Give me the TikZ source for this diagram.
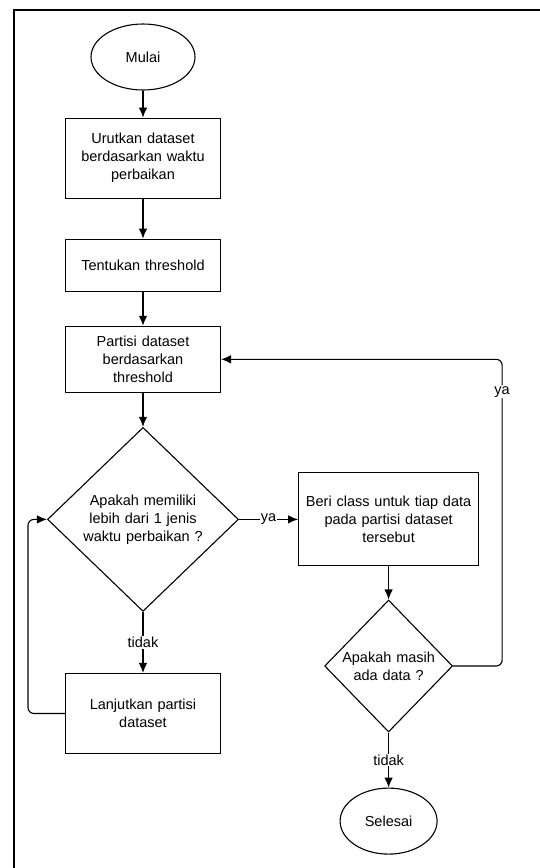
\documentclass[tikz,border=0pt]{standalone}
\usepackage{fontspec}
\setmainfont{Liberation Sans}
\usetikzlibrary{arrows.meta,positioning,shapes.geometric}
\tikzstyle{proses}=[
	rectangle,
	draw=black,
	inner xsep=0pt,
	minimum width=155pt,
	text width=155pt,
	align=center]
\tikzstyle{terminal}=[
	ellipse,
	draw=black,
	inner sep=0pt,
	minimum height=66pt]
\tikzstyle{keputusan}=[
	diamond,
	draw=black,
	inner sep=0pt,
	align=center]
\tikzstyle{label}=[
	fill=white,
	inner sep=1pt]

\begin{document}
\begin{tikzpicture}[>={Latex[length=10pt,width=8.5pt]},line width=1.1pt,font=\fontsize{14.5}{18}\selectfont]
	\useasboundingbox (0,0) rectangle (540pt,-868pt);
	\draw[line width=1.3pt] (14pt,-868pt) -- (14pt,-10pt) -- (540pt,-10pt);
	\begin{scope}[align=center]
		\node[terminal,minimum width=104pt] (mulai) at (143pt,-57pt) {Mulai};
		\node[proses,minimum height=80pt] (urut) [below=27pt of mulai] {Urutkan dataset\\berdasarkan waktu\\perbaikan};
		\node[proses,minimum height=52pt] (tentukan) [below=40pt of urut] {Tentukan threshold};
		\node[proses,minimum height=66pt] (partisi) [below=34pt of tentukan] {Partisi dataset\\berdasarkan\\threshold};
		\node[keputusan,text width=132pt,minimum width=191pt,minimum height=184pt] (cek) [below=34pt of partisi] {Apakah memiliki\\lebih dari 1 jenis\\waktu perbaikan ?};
		\node[proses,minimum height=80pt] (lanjut) [below=61pt of cek] {Lanjutkan partisi\\dataset};
		\node[proses,minimum width=180pt,text width=180pt,minimum height=93pt] (beri) [right=59pt of cek] {Beri class untuk tiap data\\pada partisi dataset\\tersebut};
		\node[keputusan,text width=98pt,minimum width=128pt,minimum height=132pt] (masih) [below=33pt of beri] {Apakah masih\\ada data ?};
		\node[terminal,minimum width=97pt] (selesai) [below=55pt of masih] {Selesai};
		\draw[->] (mulai) -- (urut);
		\draw[->] (urut) -- (tentukan);
		\draw[->] (tentukan) -- (partisi);
		\draw[->] (partisi) -- (cek);
		\draw[->] (cek) -- node[label] {tidak} (lanjut);
		\draw[->] (cek) -- node[label] {ya} (beri);
		\draw[->] (beri) -- (masih);
		\draw[->] (masih) -- node[label] {tidak} (selesai);
		\draw[->,rounded corners=6pt] (lanjut.west) -- ++(-37pt,0) |- (cek.west);
		\draw[->,rounded corners=6pt] (masih.east) -- ++(49pt,0) |- node[label,pos=0.447] {ya} (partisi.east);
	\end{scope}
\end{tikzpicture}
\end{document}
